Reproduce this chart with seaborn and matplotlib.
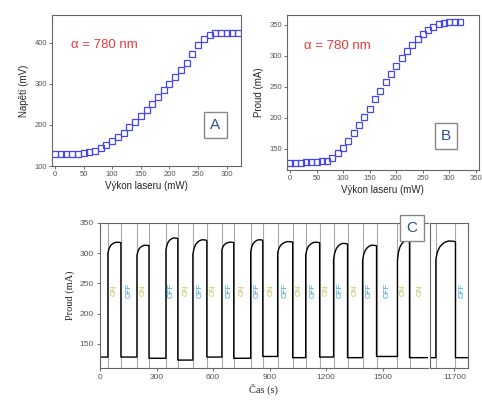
import numpy as np
import pandas as pd
import matplotlib
matplotlib.use("Agg")
import matplotlib.pyplot as plt
import seaborn as sns

# --- panel A: voltage vs laser power
power_a = [0, 10, 20, 30, 40, 50, 60, 70, 80, 90, 100, 110, 120, 130, 140, 150, 160,
           170, 180, 190, 200, 210, 220, 230, 240, 250, 260, 270, 280, 290, 300, 310, 320]
voltage_a = [130, 130, 130, 130, 130, 131, 133, 137, 143, 151, 160, 170, 181, 194, 208, 222, 237,
             252, 268, 284, 300, 316, 333, 352, 374, 394, 410, 419, 423, 425, 425, 425, 425]

# --- panel B: current vs laser power
power_b = [0, 10, 20, 30, 40, 50, 60, 70, 80, 90, 100, 110, 120, 130, 140, 150, 160,
           170, 180, 190, 200, 210, 220, 230, 240, 250, 260, 270, 280, 290, 300, 310, 320]
current_b = [128, 128, 128, 129, 129, 129, 130, 131, 136, 143, 152, 163, 175, 188, 201, 215, 230,
             244, 258, 271, 284, 297, 308, 318, 327, 335, 342, 347, 351, 353, 355, 355, 355]

# --- panel C: switching of the laser
on_times = [42, 196, 350, 493, 647, 800, 943, 1092, 1240, 1394, 1579]
off_times = [111, 260, 413, 567, 710, 864, 1023, 1166, 1314, 1468, 1643]
start_vals = [300, 296, 305, 298, 305, 302, 300, 297, 290, 288, 288]
peak_vals = [318, 313, 325, 322, 318, 322, 319, 318, 316, 313, 320]
base_vals = [128, 126, 123, 128, 126, 129, 127, 128, 127, 129, 127]
base_start = 128
t_end = 1740

# pulse after the axis break
late_on, late_off = 11598, 11706
late_start, late_peak, late_base = 290, 320, 127
late_xlim = (11568, 11775)

# shape of one pulse: (fraction of on-time, fraction of rise)
shape_t = [0.0, 0.08, 0.2, 0.35, 0.5, 0.65, 0.85, 1.0]
shape_f = [0.0, 0.40, 0.68, 0.85, 0.95, 1.0, 0.99, 0.96]

label_x = [76, 153, 228, 380, 455, 530, 601, 685, 756, 836, 909, 983, 1058, 1129, 1203, 1277,
           1354, 1431, 1523, 1611, 1700]
label_txt = ["ON", "OFF", "ON", "OFF", "ON", "OFF", "ON", "OFF", "ON", "OFF", "ON", "OFF", "ON",
             "OFF", "ON", "OFF", "ON", "OFF", "OFF", "ON", "ON"]
late_label_x = [11745]
late_label_txt = ["OFF"]


def pulse_trace(t0, t1, start, peak, base_before, base_after):
    ts = [t0]
    ys = [base_before]
    for f_t, f_y in zip(shape_t, shape_f):
        ts.append(t0 + f_t * (t1 - t0))
        ys.append(start + f_y * (peak - start))
    ts.append(t1)
    ys.append(base_after)
    return ts, ys


t_c = [0]
i_c = [base_start]
prev = base_start
for k in range(len(on_times)):
    ts, ys = pulse_trace(on_times[k], off_times[k], start_vals[k], peak_vals[k], prev, base_vals[k])
    t_c += ts
    i_c += ys
    prev = base_vals[k]
t_c.append(t_end)
i_c.append(prev)
trace = pd.DataFrame({"t": t_c, "I": i_c})

ts, ys = pulse_trace(late_on, late_off, late_start, late_peak, late_base, late_base)
late = pd.DataFrame({"t": [late_xlim[0]] + ts + [late_xlim[1]],
                     "I": [late_base] + ys + [late_base]})

sns.set_style("ticks")
plt.rcParams["font.family"] = ["Liberation Sans", "DejaVu Sans"]
plt.rcParams["axes.edgecolor"] = "#666666"
plt.rcParams["xtick.color"] = "#555555"
plt.rcParams["ytick.color"] = "#555555"

fig = plt.figure(figsize=(4.82, 4.03), dpi=100)
axA = fig.add_axes([0.108, 0.588, 0.392, 0.375])
axB = fig.add_axes([0.595, 0.578, 0.398, 0.385])
axC = fig.add_axes([0.2075, 0.087, 0.680, 0.360])
axC2 = fig.add_axes([0.893, 0.087, 0.078, 0.360])

blue = "#4646f0"
for ax, x, y in [(axA, power_a, voltage_a), (axB, power_b, current_b)]:
    sns.lineplot(x=x, y=y, ax=ax, estimator=None, linestyle="", marker="s", ms=5,
                 markerfacecolor="none", markeredgecolor=blue, markeredgewidth=0.9)
    ax.tick_params(labelsize=5.5, length=2, width=0.6, pad=1.5)
    ax.text(0.1 if ax is axA else 0.09, 0.78, "α = 780 nm", transform=ax.transAxes,
            color="#e83a3a", fontsize=9.5)
    for s in ax.spines.values():
        s.set_linewidth(0.8)

axA.set_xlim(-5, 325)
axA.set_ylim(100, 468)
axA.set_xticks(range(0, 301, 50))
axA.set_yticks([100, 200, 300, 400])
axA.set_xlabel("Výkon laseru (mW)", fontsize=7, labelpad=2)
axA.set_ylabel("Napětí (mV)", fontsize=7, labelpad=4)
axA.text(0.865, 0.27, "A", transform=axA.transAxes, fontsize=11, color="#2f4f8f",
         ha="center", va="center",
         bbox=dict(boxstyle="square,pad=0.4", fc="white", ec="#888888", lw=1.0))

axB.set_xlim(-6, 355)
axB.set_ylim(116, 366)
axB.set_xticks(range(0, 351, 50))
axB.set_yticks([150, 200, 250, 300, 350])
axB.set_xlabel("Výkon laseru (mW)", fontsize=7, labelpad=2)
axB.set_ylabel("Proud (mA)", fontsize=7, labelpad=4)
axB.text(0.83, 0.22, "B", transform=axB.transAxes, fontsize=11, color="#2f4f8f",
         ha="center", va="center",
         bbox=dict(boxstyle="square,pad=0.4", fc="white", ec="#888888", lw=1.0))

# panel C
for t in on_times + off_times:
    axC.axvline(t, color="#a8a8a8", lw=0.8, zorder=0)
for t in [late_on, late_off]:
    axC2.axvline(t, color="#a8a8a8", lw=0.8, zorder=0)

sns.lineplot(data=trace, x="t", y="I", ax=axC, color="black", lw=1.0,
             estimator=None, sort=False)
sns.lineplot(data=late, x="t", y="I", ax=axC2, color="black", lw=1.0,
             estimator=None, sort=False)

colors = {"ON": "#bfc24a", "OFF": "#3aa0c8"}
for x, txt in zip(label_x, label_txt):
    axC.text(x, 238, txt, rotation=90, fontsize=5.5, color=colors[txt],
             ha="center", va="center")
for x, txt in zip(late_label_x, late_label_txt):
    axC2.text(x, 238, txt, rotation=90, fontsize=5.5, color=colors[txt],
              ha="center", va="center")

axC.set_xlim(0, t_end)
axC.set_ylim(110, 350)
axC.set_xticks(range(0, 1501, 300))
axC.set_yticks([150, 200, 250, 300, 350])
axC.tick_params(labelsize=6, length=2.5, width=0.6, pad=2)
axC.set_xlabel("Čas (s)", fontsize=7.5, family="Liberation Serif", labelpad=2)
axC.set_ylabel("Proud (mA)", fontsize=7.5, family="Liberation Serif", labelpad=3)
axC.spines["right"].set_visible(False)

axC2.set_xlim(*late_xlim)
axC2.set_ylim(110, 350)
axC2.set_xticks([11700])
axC2.set_yticks([])
axC2.set_xlabel("")
axC2.set_ylabel("")
axC2.tick_params(labelsize=6, length=2.5, width=0.6, pad=2)

fig.text(0.855, 0.435, "C", fontsize=11, color="#2f4f8f", ha="center", va="center",
         bbox=dict(boxstyle="square,pad=0.4", fc="white", ec="#888888", lw=1.0))

fig.savefig("out.png", dpi=100)
